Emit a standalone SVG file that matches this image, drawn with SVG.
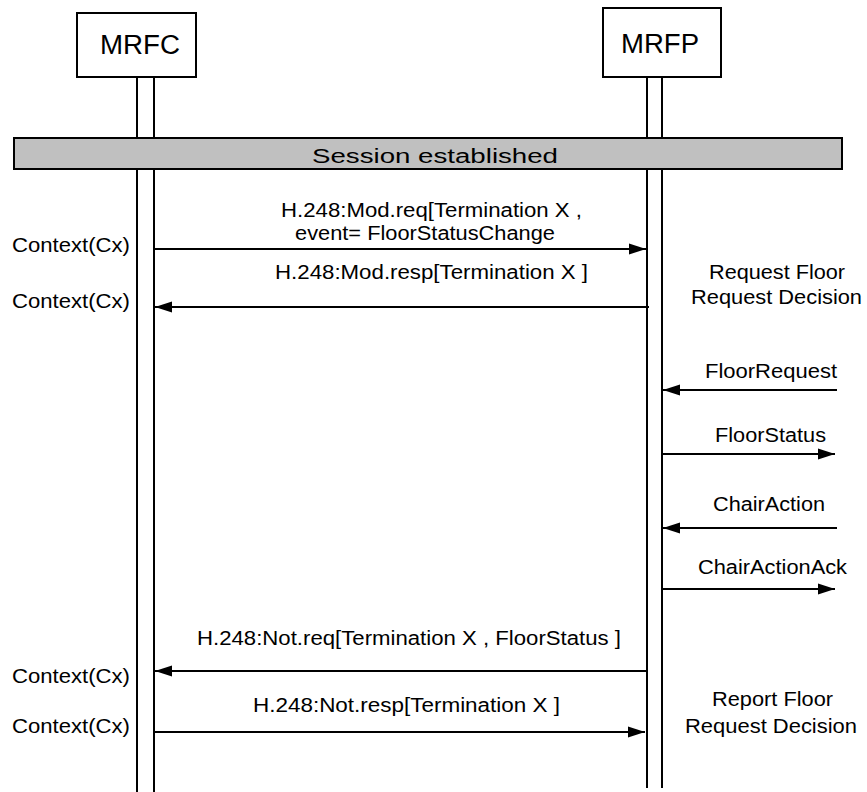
<svg xmlns="http://www.w3.org/2000/svg" width="867" height="792" viewBox="0 0 867 792">
<style>
text{font-family:"Liberation Sans",Arial,sans-serif;fill:#000;font-size:20px}
.box{fill:#fff;stroke:#000;stroke-width:2}
.life{stroke:#000;stroke-width:2;fill:none}
.msg{stroke:#000;stroke-width:2;fill:none}
.big{font-size:27px}
.bar{fill:#c0c0c0;stroke:#000;stroke-width:2}
</style>
<defs>
<marker id="ah" markerUnits="userSpaceOnUse" markerWidth="18" markerHeight="12" refX="17" refY="6" orient="auto">
<path d="M0,0.5 L17,6 L0,11.5 Z" fill="#000"/>
</marker>
</defs>
<g id="MRFC">
<rect class="box" x="77" y="13" width="119" height="64"/>
<text class="big" x="100" y="54" textLength="80" lengthAdjust="spacingAndGlyphs">MRFC</text>
<line class="life" x1="137" y1="77" x2="137" y2="792"/>
<line class="life" x1="154" y1="77" x2="154" y2="792"/>
</g>
<g id="MRFP">
<rect class="box" x="603" y="8" width="118" height="69"/>
<text class="big" x="621" y="53" textLength="78" lengthAdjust="spacingAndGlyphs">MRFP</text>
<line class="life" x1="647" y1="77" x2="647" y2="788"/>
<line class="life" x1="662" y1="77" x2="662" y2="788"/>
</g>
<g id="session">
<rect class="bar" x="14" y="138" width="828" height="31"/>
<text x="312" y="163" font-size="26" textLength="246" lengthAdjust="spacingAndGlyphs">Session established</text>
</g>
<g id="labels">
<text x="12" y="252" textLength="118" lengthAdjust="spacingAndGlyphs">Context(Cx)</text>
<text x="12" y="308" textLength="118" lengthAdjust="spacingAndGlyphs">Context(Cx)</text>
<text x="12" y="683" textLength="118" lengthAdjust="spacingAndGlyphs">Context(Cx)</text>
<text x="12" y="733" textLength="118" lengthAdjust="spacingAndGlyphs">Context(Cx)</text>
<text x="709" y="279" textLength="136" lengthAdjust="spacingAndGlyphs">Request Floor</text>
<text x="691" y="304" textLength="171" lengthAdjust="spacingAndGlyphs">Request Decision</text>
<text x="712" y="706" textLength="121" lengthAdjust="spacingAndGlyphs">Report Floor</text>
<text x="685" y="733" textLength="172" lengthAdjust="spacingAndGlyphs">Request Decision</text>
</g>
<g id="connectors">
<line class="msg" x1="153" y1="249" x2="646" y2="249" marker-end="url(#ah)"/>
<text x="281" y="217" textLength="301" lengthAdjust="spacingAndGlyphs">H.248:Mod.req[Termination X ,</text>
<text x="295" y="240" textLength="260" lengthAdjust="spacingAndGlyphs">event= FloorStatusChange</text>
<line class="msg" x1="649" y1="307" x2="155" y2="307" marker-end="url(#ah)"/>
<text x="275" y="279" textLength="313" lengthAdjust="spacingAndGlyphs">H.248:Mod.resp[Termination X ]</text>
<line class="msg" x1="837" y1="390" x2="663" y2="390" marker-end="url(#ah)"/>
<text x="705" y="378" textLength="132" lengthAdjust="spacingAndGlyphs">FloorRequest</text>
<line class="msg" x1="661" y1="454" x2="835" y2="454" marker-end="url(#ah)"/>
<text x="715" y="442" textLength="111" lengthAdjust="spacingAndGlyphs">FloorStatus</text>
<line class="msg" x1="837" y1="528" x2="663" y2="528" marker-end="url(#ah)"/>
<text x="713" y="511" textLength="112" lengthAdjust="spacingAndGlyphs">ChairAction</text>
<line class="msg" x1="661" y1="589" x2="835" y2="589" marker-end="url(#ah)"/>
<text x="698" y="574" textLength="149" lengthAdjust="spacingAndGlyphs">ChairActionAck</text>
<line class="msg" x1="646" y1="671" x2="155" y2="671" marker-end="url(#ah)"/>
<text x="197" y="645" textLength="424" lengthAdjust="spacingAndGlyphs">H.248:Not.req[Termination X , FloorStatus ]</text>
<line class="msg" x1="153" y1="732" x2="645" y2="732" marker-end="url(#ah)"/>
<text x="253" y="712" textLength="307" lengthAdjust="spacingAndGlyphs">H.248:Not.resp[Termination X ]</text>
</g>
</svg>
